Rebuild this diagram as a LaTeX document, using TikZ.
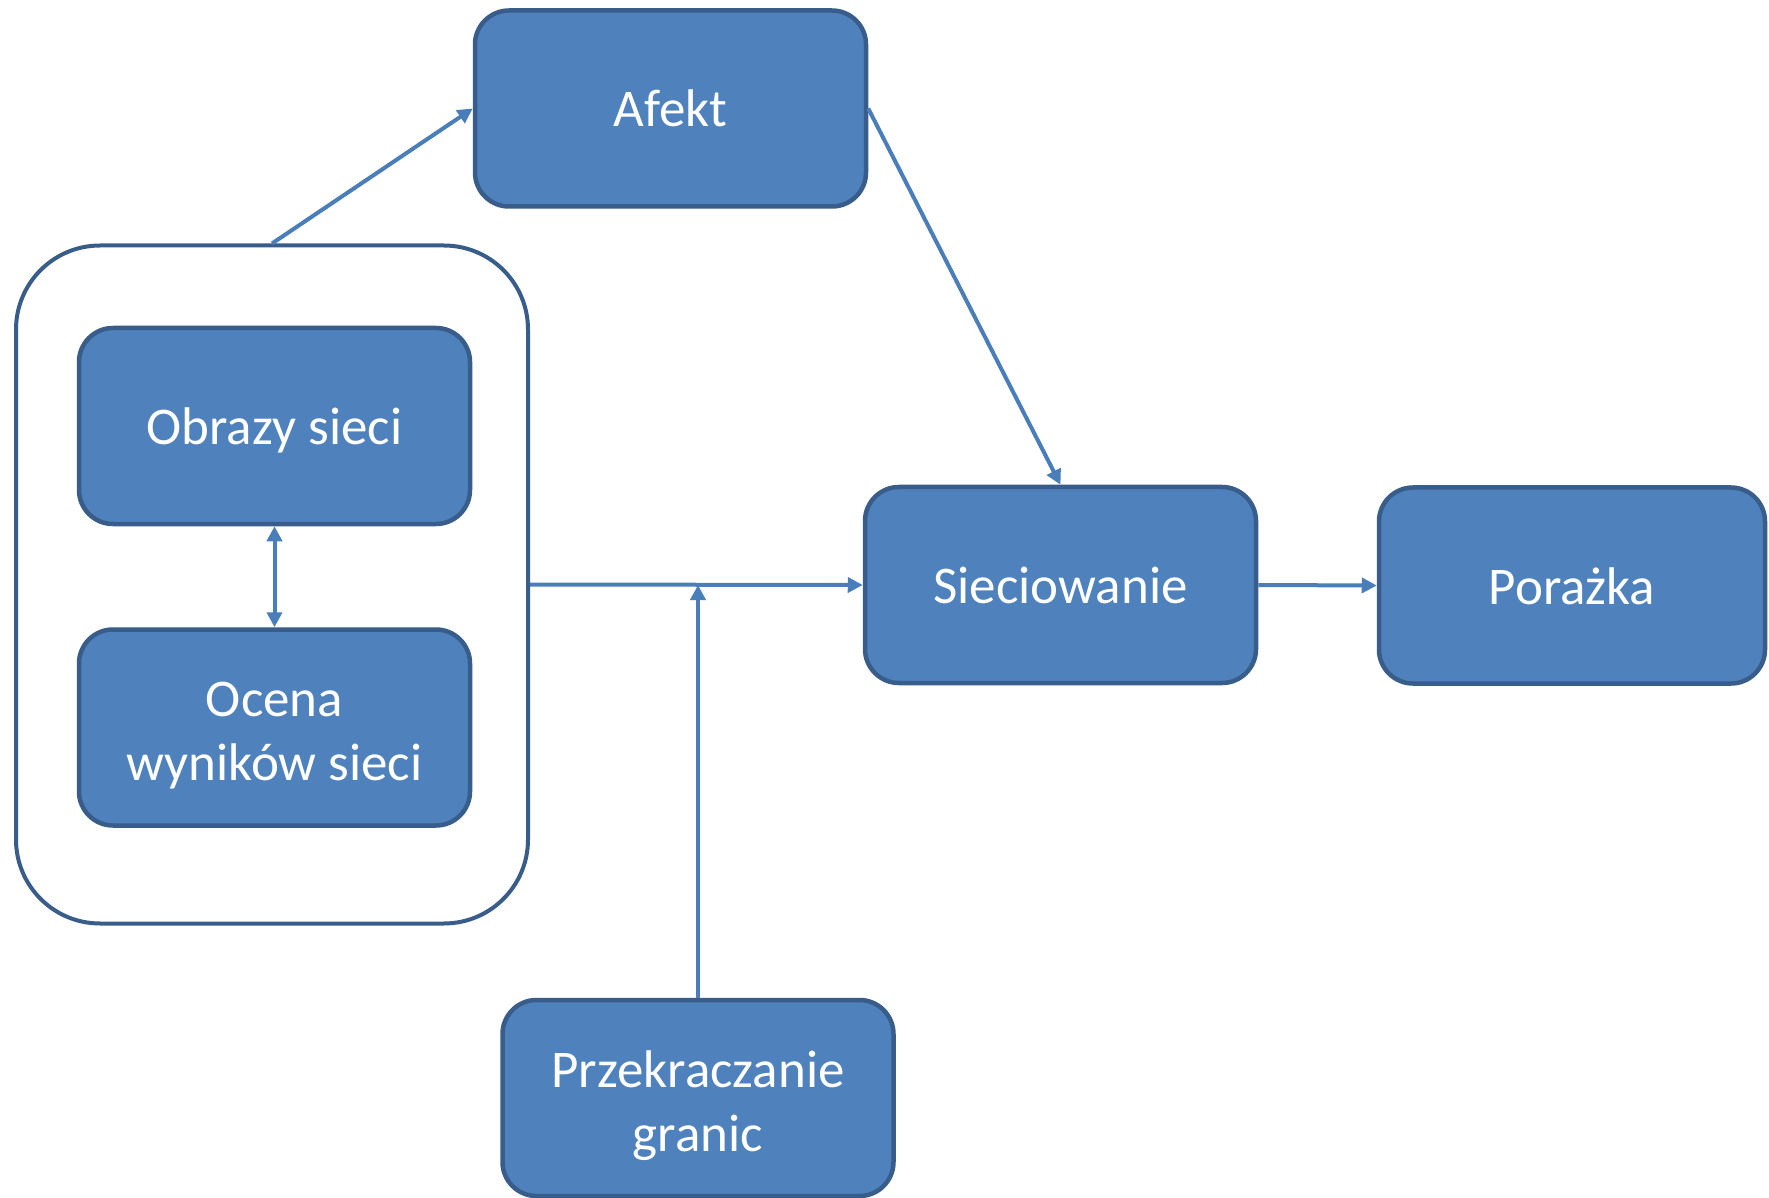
\documentclass[tikz,border=0pt]{standalone}
\usepackage{fontspec}
\setmainfont{Carlito}
\usetikzlibrary{arrows.meta}
\definecolor{boxfill}{HTML}{4F81BD}
\definecolor{boxline}{HTML}{385D8A}
\definecolor{conn}{HTML}{4A7EBB}
\tikzset{
  bluebox/.style={draw=boxline, fill=boxfill, line width=2.25pt, rounded corners=17pt,
    minimum width=195.5pt, minimum height=98pt, align=center, text=white, inner sep=0pt,
    font=\fontsize{26.5pt}{32pt}\selectfont, text height=18.5pt, text depth=0pt},
  twoline/.style={text height=53pt, text depth=0pt},
  container/.style={draw=boxline, fill=white, line width=2pt, rounded corners=42pt,
    minimum width=256pt, minimum height=339pt, inner sep=0pt},
  conn/.style={draw=conn, line width=2pt, -{Triangle[length=7.5pt,width=7.5pt]}},
  conn2/.style={draw=conn, line width=2pt, {Triangle[length=7.5pt,width=7.5pt]}-{Triangle[length=7.5pt,width=7.5pt]}}
}
\begin{document}
\begin{tikzpicture}[x=0.5pt,y=-0.5pt]
\useasboundingbox (0,0) rectangle (1769,1198);
\node[container] (cont) at (272,584.5) {};
\node[bluebox] (afekt) at (670.5,108.5) {Afekt};
\node[bluebox] (obrazy) at (274.5,426) {Obrazy sieci};
\node[bluebox, twoline] (ocena) at (274.5,727.5) {Ocena\\wyników sieci};
\node[bluebox] (siec) at (1060.5,585) {Sieciowanie};
\node[bluebox, minimum width=193pt] (poraz) at (1572,585.5) {Porażka};
\node[bluebox, twoline] (przek) at (698,1098) {Przekraczanie\\granic};
\coordinate (join) at (przek.north |- siec.west);
\draw[conn] (cont.north) -- (afekt.west);
\draw[conn] (afekt.east) -- (siec.north);
\draw[conn2] (obrazy.south) -- (ocena.north);
\draw[conn] (cont.east) -- (siec.west);
\draw[conn] (przek.north) -- (join);
\draw[conn] (siec.east) -- (poraz.west);
\end{tikzpicture}
\end{document}
